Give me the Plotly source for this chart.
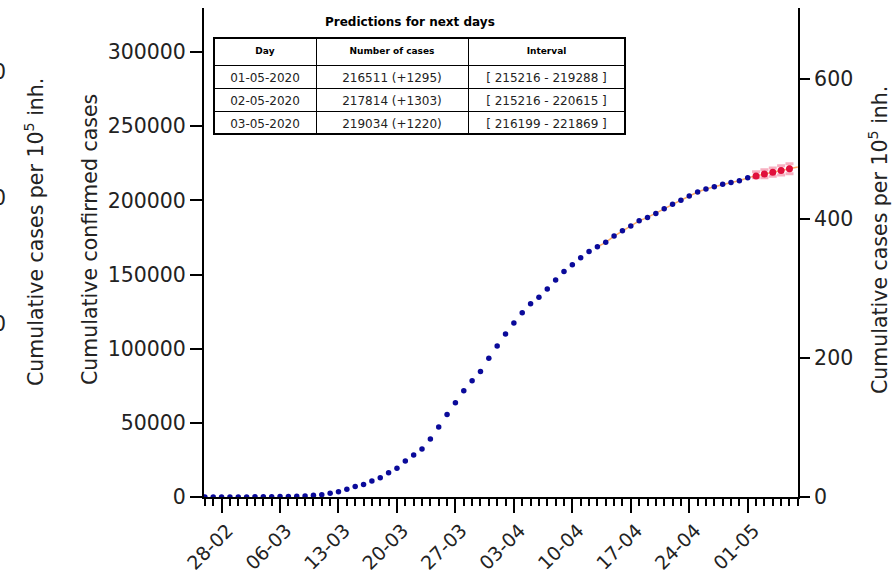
import plotly.graph_objects as go
import pandas as pd

# ---------------- data ----------------
START_DATE = "2020-02-26"
POPULATION = 46_940_000

observed_cases = [
    5, 10, 15, 30, 45, 80, 120, 165, 220, 260, 400, 500,
    700, 1100, 1600, 2500, 3600, 5200, 7000, 8500, 10800, 13000,
    16400, 19300, 24300, 28300, 32400, 39100, 47200, 55700, 63600, 71600,
    78400, 84700, 93500, 101800, 109900, 117300, 124200, 130300, 134600, 140200,
    146300, 152100, 156600, 161300, 165600, 168700, 171700, 175900, 179500, 182700,
    186200, 188500, 191200, 194300, 197300, 200000, 202900, 205600, 207600, 209100,
    210800, 212100, 213200, 215216,
]
predicted_cases = [216511, 217814, 219034, 220200, 221350]
predicted_low = [215216, 215216, 216199, 217100, 218000]
predicted_high = [219288, 220615, 221869, 223300, 224700]
fit_start_index = 47
fit_extension = [222500]

table_days = ["01-05-2020", "02-05-2020", "03-05-2020"]
table_cases = ["216511 (+1295)", "217814 (+1303)", "219034 (+1220)"]
table_intervals = ["[ 215216 - 219288 ]", "[ 215216 - 220615 ]", "[ 216199 - 221869 ]"]
table_header = ["Day", "Number of cases", "Interval"]

x_tick_dates = ["2020-02-28", "2020-03-06", "2020-03-13", "2020-03-20", "2020-03-27",
                "2020-04-03", "2020-04-10", "2020-04-17", "2020-04-24", "2020-05-01"]
x_tick_labels = ["28-02", "06-03", "13-03", "20-03", "27-03",
                 "03-04", "10-04", "17-04", "24-04", "01-05"]
y_ticks = [0, 50000, 100000, 150000, 200000, 250000, 300000]
y2_ticks = [0, 200, 400, 600]
neighbour_ticks = ["600", "400", "200"]

# ---------------- derived ----------------
base = pd.Timestamp(START_DATE)
obs_dates = [base + pd.Timedelta(days=i) for i in range(len(observed_cases))]
pred_dates = [base + pd.Timedelta(days=len(observed_cases) + i) for i in range(len(predicted_cases))]
fit_vals = observed_cases[fit_start_index:] + predicted_cases + fit_extension
fit_dates = [base + pd.Timedelta(days=fit_start_index + i) for i in range(len(fit_vals))]

Y_MAX = 329700
Y2_MAX = Y_MAX * 1e5 / POPULATION
X_RANGE = [base - pd.Timedelta(hours=2.5), pd.Timestamp("2020-05-07 00:30")]

FONT = "DejaVu Sans"
FS = 20.5
W, H = 892, 573
L, R, T, B = 204, 94, 8, 76
PW, PH = W - L - R, H - T - B


def px_x(px):
    return (px - L) / PW


def px_y(py):
    return (H - B - py) / PH


fig = go.Figure()

# fit line
fig.add_trace(go.Scatter(
    x=fit_dates, y=fit_vals, mode="lines",
    line=dict(color="rgba(255,150,60,0.8)", width=1.5),
    hoverinfo="skip", showlegend=False))

# predictions with interval
fig.add_trace(go.Scatter(
    x=pred_dates, y=predicted_cases, mode="markers",
    marker=dict(color="#e0103c", size=7),
    error_y=dict(type="data", symmetric=False,
                 array=[h - v for h, v in zip(predicted_high, predicted_cases)],
                 arrayminus=[v - l for l, v in zip(predicted_low, predicted_cases)],
                 color="rgba(240,110,140,0.55)", thickness=3, width=4),
    showlegend=False))

# observed
fig.add_trace(go.Scatter(
    x=obs_dates, y=observed_cases, mode="markers",
    marker=dict(color="#0a0a9a", size=5.5),
    showlegend=False))

# secondary axis carrier (per 1e5 inhabitants)
fig.add_trace(go.Scatter(
    x=obs_dates, y=[v * 1e5 / POPULATION for v in observed_cases],
    mode="markers", marker=dict(opacity=0), yaxis="y2",
    hoverinfo="skip", showlegend=False))

# prediction table
fig.add_trace(go.Table(
    domain=dict(x=[px_x(214), px_x(625)], y=[px_y(200), px_y(38)]),
    columnwidth=[102, 152, 157],
    header=dict(values=["<b>%s</b>" % h for h in table_header],
                line=dict(color="black", width=1), fill=dict(color="white"),
                align="center", height=27,
                font=dict(family=FONT, size=9, color="black")),
    cells=dict(values=[table_days, table_cases, table_intervals],
               line=dict(color="black", width=1), fill=dict(color="white"),
               align="center", height=23,
               font=dict(family=FONT, size=12, color="#222"))))

axis_common = dict(showline=True, linecolor="black", linewidth=2,
                   ticks="outside", tickcolor="black", tickwidth=2,
                   showgrid=False, zeroline=False, automargin=False)

fig.update_layout(
    width=W, height=H, margin=dict(l=L, r=R, t=T, b=B, autoexpand=False),
    paper_bgcolor="white", plot_bgcolor="white",
    xaxis=dict(type="date", range=X_RANGE, tickvals=x_tick_dates, ticktext=x_tick_labels,
               tickangle=-45, ticklen=14, ticklabelstandoff=-1, ticklabelshift=6,
               tickfont=dict(family=FONT, size=19, color="#222"),
               minor=dict(ticks="outside", ticklen=7, tickwidth=2, tickcolor="black",
                          dtick=86400000, tick0=START_DATE, showgrid=False),
               **axis_common),
    yaxis=dict(range=[0, Y_MAX], tickvals=y_ticks, ticktext=[str(v) for v in y_ticks],
               ticklen=12, tickfont=dict(family=FONT, size=FS, color="#222"),
               **axis_common),
    yaxis2=dict(range=[0, Y2_MAX], tickvals=y2_ticks, overlaying="y", side="right",
                ticklen=10, tickfont=dict(family=FONT, size=FS, color="#222"),
                **axis_common),
    font=dict(family=FONT, color="#222"),
)

annotations = [
    dict(text="<b>Predictions for next days</b>", x=px_x(410), y=px_y(22),
         font=dict(family=FONT, size=12, color="black")),
    dict(text="Cumulative confirmed cases", x=px_x(90), y=px_y(240), textangle=-90,
         font=dict(family=FONT, size=FS, color="#222")),
    dict(text="Cumulative cases per 10<sup>5</sup> inh.", x=px_x(878), y=px_y(240),
         textangle=-90, font=dict(family=FONT, size=FS, color="#222")),
    dict(text="Cumulative cases per 10<sup>5</sup> inh.", x=px_x(35), y=px_y(232),
         textangle=-90, font=dict(family=FONT, size=FS, color="#222")),
]
for lab, py in zip(neighbour_ticks, [72, 198, 324]):
    annotations.append(dict(text=lab, x=px_x(8), y=px_y(py), xanchor="right",
                            font=dict(family=FONT, size=FS, color="#222")))
for a in annotations:
    a.update(xref="paper", yref="paper", showarrow=False)
    a.setdefault("xanchor", "center")
    a.setdefault("yanchor", "middle")
fig.update_layout(annotations=annotations)

fig.add_shape(type="rect", xref="paper", yref="paper",
              x0=px_x(214), x1=px_x(625), y0=px_y(134), y1=px_y(38),
              line=dict(color="black", width=2), layer="above")

fig.write_html("out.html")
